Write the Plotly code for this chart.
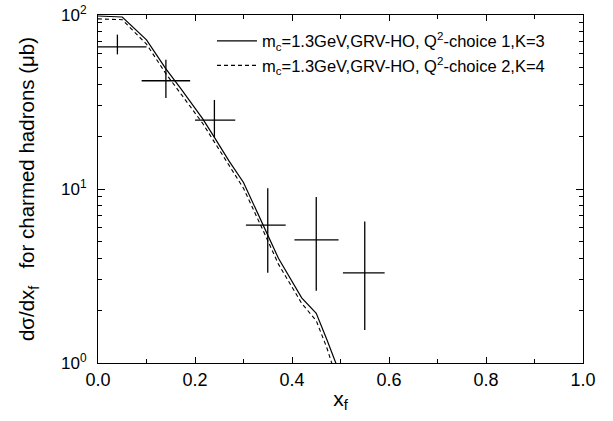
import plotly.graph_objects as go

# Data points (charmed hadrons)
pt_x = [0.04, 0.14, 0.24, 0.35, 0.45, 0.55]
pt_xlo = [0.00, 0.09, 0.20, 0.305, 0.405, 0.505]
pt_xhi = [0.10, 0.19, 0.283, 0.387, 0.496, 0.591]
pt_y = [65.5, 41.9, 24.9, 6.2, 5.1, 3.3]
pt_ylo = [59.4, 33.3, 19.8, 3.3, 2.6, 1.55]
pt_yhi = [77.1, 55.3, 32.5, 10.1, 9.0, 6.5]

# Theory curves
c1_x = [0.0, 0.05, 0.10, 0.14, 0.17, 0.216, 0.24, 0.27, 0.30, 0.348, 0.372, 0.42, 0.45, 0.472, 0.50]
c1_y = [98.7, 97.4, 72.0, 49.0, 38.0, 25.3, 19.8, 14.5, 10.9, 5.6, 4.0, 2.37, 1.93, 1.36, 0.85]
c2_x = [0.0, 0.05, 0.10, 0.14, 0.17, 0.216, 0.24, 0.27, 0.30, 0.348, 0.372, 0.42, 0.45, 0.472, 0.49]
c2_y = [95.0, 94.0, 68.0, 46.0, 35.5, 23.8, 18.6, 13.6, 10.1, 5.2, 3.7, 2.2, 1.75, 1.22, 0.85]

label1 = "m<sub>c</sub>=1.3GeV,GRV-HO, Q<sup>2</sup>-choice 1,K=3"
label2 = "m<sub>c</sub>=1.3GeV,GRV-HO, Q<sup>2</sup>-choice 2,K=4"

y_tickvals = [1, 10, 100]
y_ticktext = ["10<sup>0</sup>", "10<sup>1</sup>", "10<sup>2</sup>"]
y_minor = [2, 3, 4, 5, 6, 7, 8, 9, 20, 30, 40, 50, 60, 70, 80, 90]
x_tickvals = [0.0, 0.2, 0.4, 0.6, 0.8, 1.0]
x_ticktext = ["0.0", "0.2", "0.4", "0.6", "0.8", "1.0"]

FONT = "Liberation Sans, Arial, sans-serif"

fig = go.Figure()
fig.add_trace(go.Scatter(x=c1_x, y=c1_y, mode="lines", name=label1,
                         line=dict(color="black", width=1.2)))
fig.add_trace(go.Scatter(x=c2_x, y=c2_y, mode="lines", name=label2,
                         line=dict(color="black", width=1.1, dash="4px,3px")))
fig.add_trace(go.Scatter(
    x=pt_x, y=pt_y, mode="markers", showlegend=False, hoverinfo="skip",
    marker=dict(size=1, color="rgba(0,0,0,0)"),
    error_x=dict(type="data", symmetric=False,
                 array=[h - c for h, c in zip(pt_xhi, pt_x)],
                 arrayminus=[c - l for l, c in zip(pt_xlo, pt_x)],
                 width=0, thickness=1.3, color="black"),
    error_y=dict(type="data", symmetric=False,
                 array=[h - c for h, c in zip(pt_yhi, pt_y)],
                 arrayminus=[c - l for l, c in zip(pt_ylo, pt_y)],
                 width=0, thickness=1.3, color="black"),
))

fig.update_layout(
    width=613, height=421,
    margin=dict(l=98, r=30, t=15, b=58),
    paper_bgcolor="white", plot_bgcolor="white",
    font=dict(family=FONT, color="black", size=16),
    legend=dict(x=0.235, y=0.975, xanchor="left", yanchor="top",
                bgcolor="rgba(0,0,0,0)", font=dict(size=16.5, family=FONT),
                itemwidth=40, tracegroupgap=0),
    xaxis=dict(range=[0, 1.0], tickvals=x_tickvals, ticktext=x_ticktext,
               ticks="inside", ticklen=6, tickwidth=1, tickcolor="black",
               showline=True, linecolor="black", linewidth=1.2, mirror="ticks",
               showgrid=False, zeroline=False, automargin=False,
               ticklabeloverflow="allow",
               minor=dict(dtick=0.1, tick0=0, ticks="inside", ticklen=4, tickcolor="black", showgrid=False),
               tickfont=dict(size=18),
               title=dict(text="x<sub>f</sub>", font=dict(size=21), standoff=2)),
    yaxis=dict(type="log", range=[0, 2], tickvals=y_tickvals, ticktext=y_ticktext,
               ticks="inside", ticklen=7, tickwidth=1, tickcolor="black",
               showline=True, linecolor="black", linewidth=1.2, mirror="ticks",
               showgrid=False, zeroline=False, automargin=False,
               ticklabeloverflow="allow", ticklabelstandoff=7,
               minor=dict(tickmode="array", tickvals=y_minor, ticks="inside", ticklen=4,
                          tickcolor="black", showgrid=False),
               tickfont=dict(size=17),
               title=dict(text="dσ/dx<sub>f</sub>   for charmed hadrons (μb)", font=dict(size=20.5), standoff=20)),
)

fig.write_html("out.html", config={"displayModeBar": False},
               post_script="document.body.style.margin='0px';")
